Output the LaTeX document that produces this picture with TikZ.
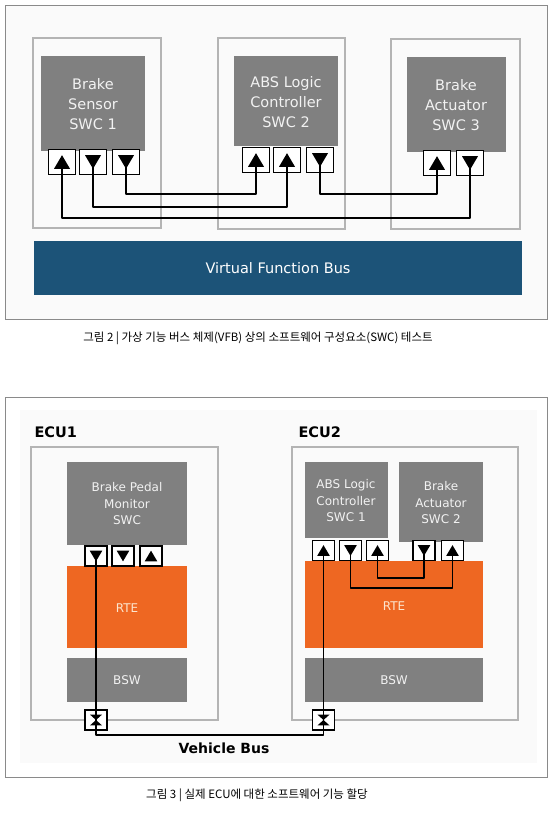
\documentclass[tikz,border=0pt]{standalone}
\usepackage{fontspec}
\usepackage{graphicx}
\newfontfamily\dv{DejaVu Sans}
\newfontfamily\kr{Noto Sans CJK KR}
\definecolor{swcgray}{HTML}{808080}
\definecolor{boxline}{HTML}{B4B4B4}
\definecolor{frameline}{HTML}{8A8A8A}
\definecolor{busblue}{HTML}{1C5378}
\definecolor{rteorange}{HTML}{EE6722}
\definecolor{rtetext}{HTML}{FCE6CF}
\definecolor{swctext}{HTML}{F2F2F2}
\definecolor{faintbg}{HTML}{FAFAFA}
\newcommand\pU[5]{\node[#5] (#1) at (#2,#3) {};
  \fill (#2-#4,#3+#4*0.85) -- (#2+#4,#3+#4*0.85) -- (#2,#3-#4*0.85) -- cycle;}
\newcommand\pD[5]{\node[#5] (#1) at (#2,#3) {};
  \fill (#2-#4,#3-#4*0.85) -- (#2+#4,#3-#4*0.85) -- (#2,#3+#4*0.85) -- cycle;}
\newcommand\pX[5]{\node[#5] (#1) at (#2,#3) {};
  \fill (#2-#4,#3-#4*0.9) -- (#2+#4,#3-#4*0.9) -- (#2,#3) -- cycle;
  \fill (#2-#4,#3+#4*0.9) -- (#2+#4,#3+#4*0.9) -- (#2,#3) -- cycle;}
\tikzset{
  frame/.style={draw=frameline, line width=0.9pt},
  swcbox/.style={draw=boxline, line width=1.4pt},
  swc/.style={fill=swcgray, text=swctext, align=center, font=\dv\fontsize{14.5}{20}\selectfont},
  swcs/.style={fill=swcgray, text=swctext, align=center, font=\dv\fontsize{12}{16.5}\selectfont},
  tport/.style={draw=black, fill=white, line width=1.2pt, minimum width=27pt, minimum height=25pt, inner sep=0pt},
  bport/.style={draw=black, fill=white, line width=1.1pt, minimum width=22pt, minimum height=20pt, inner sep=0pt},
  twire/.style={draw=black, line width=2.3pt, line join=round},
  bwire/.style={draw=black, line width=1.8pt, line join=round},
  lbl/.style={font=\dv\fontsize{12}{16}\selectfont},
  ecu/.style={font=\dv\bfseries\fontsize{14.5}{17}\selectfont, anchor=west},
  captext/.style={font=\kr\fontsize{11.5}{14}\selectfont}
}
\begin{document}
\begin{tikzpicture}[x=1pt,y=-1pt]
\useasboundingbox (0,0) rectangle (559,818);
\fill[white] (0,0) rectangle (559,818);
% ===== Figure 2 =====
\draw[frame, fill=white!98!black] (5,5) rectangle (547,319);
\draw[swcbox] (33,38) rectangle (161,228);
\draw[swcbox] (218,38) rectangle (345,229);
\draw[swcbox] (391,39) rectangle (520,229);
\fill[swcgray] (41,56) rectangle (145,151);
\fill[swcgray] (234,56) rectangle (338,146);
\fill[swcgray] (407,57) rectangle (506,152);
\node[swc, fill=none] (s1) at (93,104) {Brake\\Sensor\\SWC 1};
\node[swc, fill=none] (s2) at (286,102) {ABS Logic\\Controller\\SWC 2};
\node[swc, fill=none] (s3) at (456,105) {Brake\\Actuator\\SWC 3};
\fill[busblue] (34,241) rectangle (522,295);
\node[text=white, font=\dv\fontsize{14.5}{17}\selectfont] (vfb) at (278,268) {Virtual Function Bus};
% ports
\pU{a1}{62}{162}{8}{tport}
\pD{a2}{93}{162}{8}{tport}
\pD{a3}{126}{162}{8}{tport}
\pU{b1}{256}{160}{8}{tport}
\pU{b2}{287}{160}{8}{tport}
\pD{b3}{320}{160}{8}{tport}
\pU{c1}{437}{163}{8}{tport}
\pD{c2}{470}{163}{8}{tport}
% wires
\draw[twire] (a3.center) -- (a3.center |- 0,194) -- (b1.center |- 0,194) -- (b1.center);
\draw[twire] (a2.center) -- (a2.center |- 0,207) -- (b2.center |- 0,207) -- (b2.center);
\draw[twire] (c2.center) -- (c2.center |- 0,218) -- (a1.center |- 0,218) -- (a1.center);
\draw[twire] (b3.center) -- (b3.center |- 0,194) -- (c1.center |- 0,194) -- (c1.center);
\node[captext] (cap2) at (258,338) {그림 2 | 가상 기능 버스 체제(VFB) 상의 소프트웨어 구성요소(SWC) 테스트};
% ===== Figure 3 =====
\draw[frame, fill=white] (5,397) rectangle (547,777);
\fill[faintbg] (20,410) rectangle (537,763);
\node[ecu] (e1) at (31,432) {ECU1};
\node[ecu] (e2) at (295,432) {ECU2};
\draw[swcbox, fill=faintbg] (31,447) rectangle (218,720);
\draw[swcbox, fill=faintbg] (292,447) rectangle (518,720);
% ECU1 blocks
\fill[swcgray] (67,462) rectangle (187,545);
\node[swcs, fill=none] (bpm) at (127,504) {Brake Pedal\\Monitor\\SWC};
\fill[rteorange] (67,566) rectangle (187,648);
\node[lbl, text=rtetext] (rte1) at (127,608) {RTE};
\fill[swcgray] (67,658) rectangle (187,702);
\node[lbl, text=swctext] (bsw1) at (127,680) {BSW};
% ECU2 blocks
\fill[swcgray] (305,462) rectangle (388,538);
\node[swcs, fill=none] (abs) at (346,501) {ABS Logic\\Controller\\SWC 1};
\fill[swcgray] (399,462) rectangle (483,542);
\node[swcs, fill=none] (ba) at (441,503) {Brake\\Actuator\\SWC 2};
\fill[rteorange] (305,561) rectangle (483,648);
\node[lbl, text=rtetext] (rte2) at (394,606) {RTE};
\fill[swcgray] (305,658) rectangle (483,702);
\node[lbl, text=swctext] (bsw2) at (394,680) {BSW};
% ports
\pD{p1}{96}{556}{6.3}{bport}
\pD{p2}{123}{556}{6.3}{bport}
\pU{p3}{151}{556}{6.3}{bport}
\pU{q1}{323.5}{550.5}{6.3}{bport}
\pD{q2}{350.5}{550.5}{6.3}{bport}
\pU{q3}{377.5}{550.5}{6.3}{bport}
\pD{q4}{424}{550.5}{6.3}{bport}
\pU{q5}{452.5}{550.5}{6.3}{bport}
\pX{x1}{96}{720}{6}{bport}
\pX{x2}{323.5}{720}{6}{bport}
% wires
\draw[bwire] (q2.center) -- (q2.center |- 0,588) -- (q5.center |- 0,588) -- (q5.center);
\draw[bwire] (q4.center) -- (q4.center |- 0,578) -- (q3.center |- 0,578) -- (q3.center);
\draw[bwire] (p1.center) -- (x1.center) -- (x1.center |- 0,735) -- (x2.center |- 0,735) -- (x2.center) -- (q1.center);
\node[font=\dv\bfseries\fontsize{14}{17}\selectfont] (vb) at (224,748) {Vehicle Bus};
\node[captext] (cap3) at (257,795) {그림 3 | 실제 ECU에 대한 소프트웨어 기능 할당};
\end{tikzpicture}
\end{document}
